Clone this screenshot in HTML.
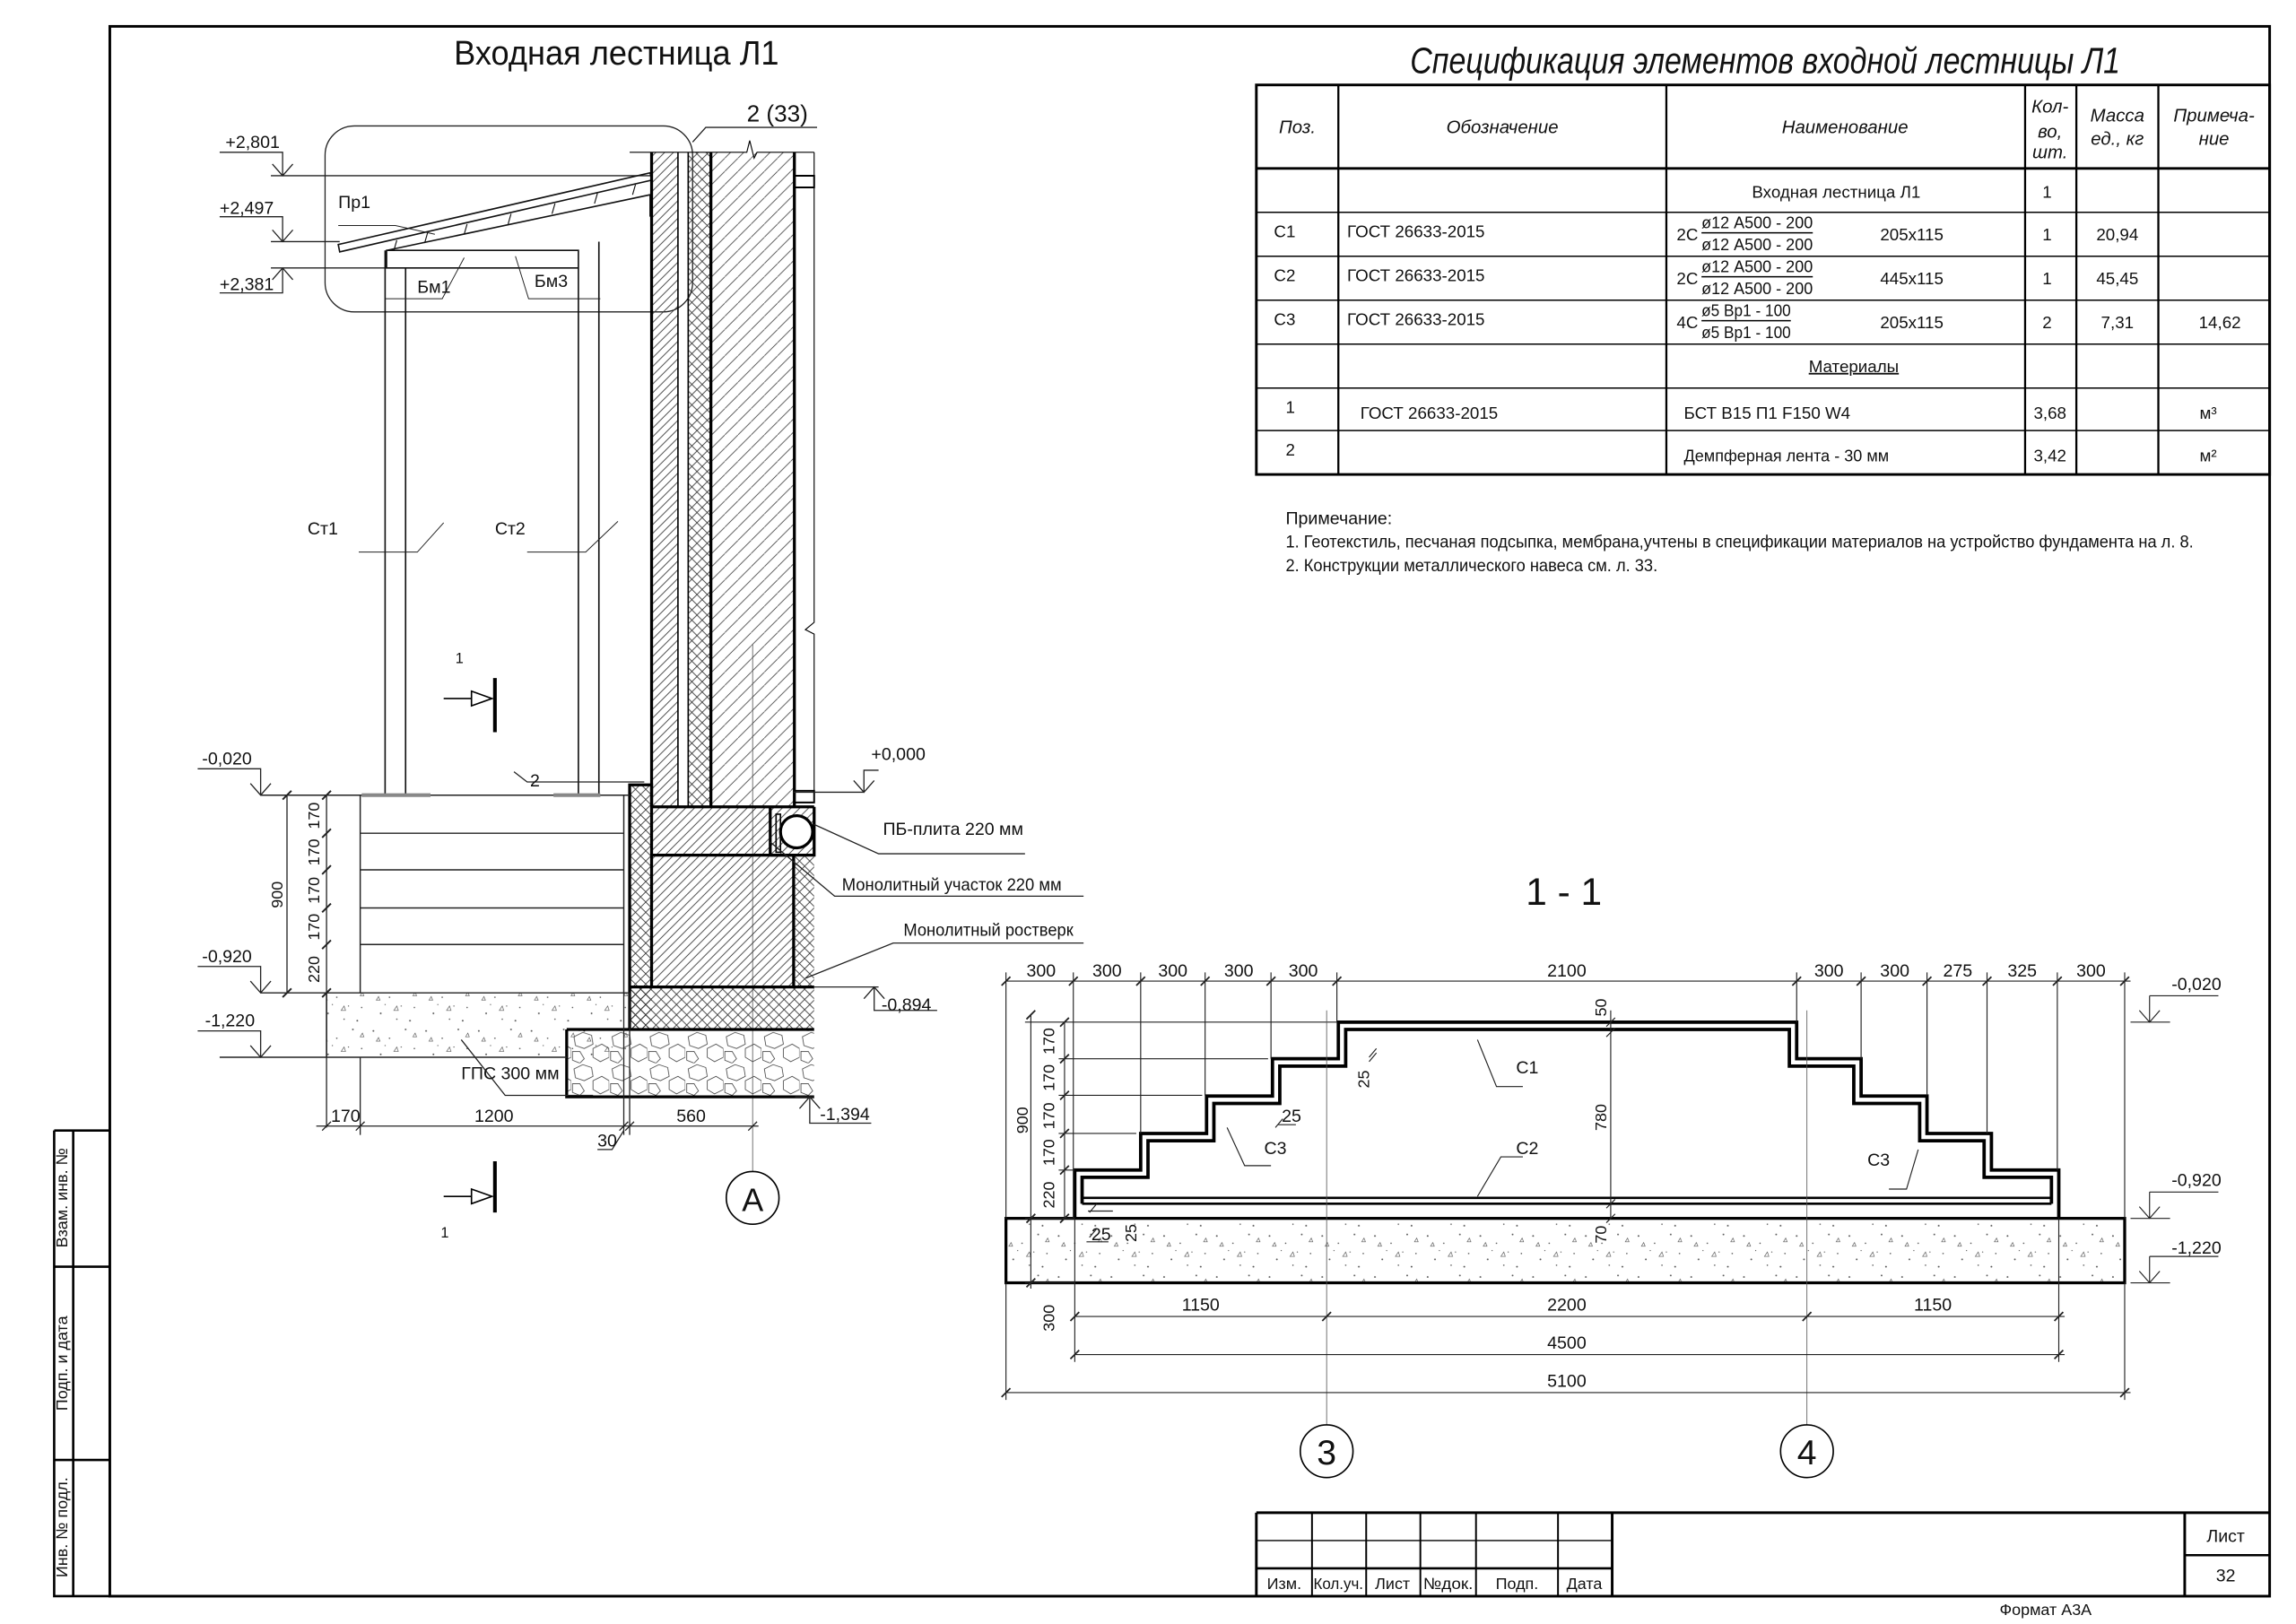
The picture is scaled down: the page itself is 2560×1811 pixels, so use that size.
<!DOCTYPE html>
<html><head><meta charset="utf-8"><style>
html,body{margin:0;padding:0;background:#fff}
svg{display:block}
text{font-family:"Liberation Sans Narrow","Liberation Sans",sans-serif;fill:#111}
</style></head><body>
<svg width="2560" height="1811" viewBox="0 0 1568 1109" preserveAspectRatio="none" xmlns="http://www.w3.org/2000/svg">
<defs>
<pattern id="dg" patternUnits="userSpaceOnUse" width="6" height="6"><path d="M-1,7 L7,-1 M-1,1 L1,-1 M5,7 L7,5" stroke="#333" stroke-width="0.5"/></pattern>
<pattern id="dg2" patternUnits="userSpaceOnUse" width="9" height="9"><path d="M-1,10 L10,-1" stroke="#444" stroke-width="0.5"/></pattern>
<pattern id="cr" patternUnits="userSpaceOnUse" width="7" height="7"><path d="M-1,8 L8,-1 M-1,-1 L8,8" stroke="#333" stroke-width="0.5"/></pattern>
<pattern id="cc" patternUnits="userSpaceOnUse" width="36" height="28"><g fill="#555"><circle cx="3" cy="4" r="0.6"/><circle cx="14" cy="9" r="0.5"/><circle cx="25" cy="3" r="0.6"/><circle cx="31" cy="16" r="0.5"/><circle cx="8" cy="20" r="0.6"/><circle cx="19" cy="24" r="0.5"/><circle cx="28" cy="25" r="0.6"/><circle cx="11" cy="14" r="0.4"/><circle cx="22" cy="15" r="0.4"/></g><path d="M17,18 l2,-3 l1,3z M5,11 l1.5,-2.5 l1,2.5z M30,8 l1.5,-2.5 l1,2.5z" fill="none" stroke="#555" stroke-width="0.4"/></pattern>
<pattern id="rb" patternUnits="userSpaceOnUse" width="26" height="22"><path d="M2,4 l6,-3 l6,2 l1,6 l-6,3 l-6,-2z M15,12 l6,-3 l5,3 l0,6 l-6,3 l-5,-3z M1,14 l5,0 l3,5 l-3,3 l-5,-2z" fill="none" stroke="#444" stroke-width="0.5"/></pattern>
</defs>
<rect width="1568" height="1109" fill="#fff"/>
<rect x="75" y="18" width="1475" height="1072" fill="none" stroke="#000" stroke-width="1.8"/>
<g stroke="#000" stroke-width="1.6" fill="none">
<path d="M37,772 H75 M37,772 V1090 H75 M50,772 V1090 M37,865 H75 M37,997 H75"/>
</g>
<g font-size="11">
<text transform="translate(46,818) rotate(-90)" text-anchor="middle">Взам. инв. №</text>
<text transform="translate(46,931) rotate(-90)" text-anchor="middle">Подп. и дата</text>
<text transform="translate(46,1043) rotate(-90)" text-anchor="middle">Инв. № подл.</text>
</g>
<g stroke="#000" fill="none">
<path d="M858,1033 H1550 M858,1033 V1090 M1101,1033 V1090 M1492,1033 V1090" stroke-width="1.8"/>
<path d="M896,1033 V1090 M933,1033 V1090 M970,1033 V1090 M1008,1033 V1090 M1064,1033 V1090" stroke-width="1.2"/>
<path d="M858,1052 H1101" stroke-width="0.8"/>
<path d="M858,1071 H1101 M1492,1062 H1550" stroke-width="1.6"/>
</g>
<g font-size="11" text-anchor="middle">
<text x="877" y="1085">Изм.</text><text x="914" y="1085" textLength="34" lengthAdjust="spacingAndGlyphs">Кол.уч.</text><text x="951" y="1085">Лист</text><text x="989" y="1085" textLength="34" lengthAdjust="spacingAndGlyphs">№док.</text><text x="1036" y="1085">Подп.</text><text x="1082" y="1085">Дата</text>
<text x="1520" y="1053" font-size="12">Лист</text><text x="1520" y="1080" font-size="12">32</text>
<text x="1397" y="1103">Формат А3А</text>
</g>
<text x="310" y="44" font-size="23" textLength="222" lengthAdjust="spacingAndGlyphs">Входная лестница Л1</text>
<text x="963" y="50" font-size="25" font-style="italic" textLength="485" lengthAdjust="spacingAndGlyphs">Спецификация элементов входной лестницы Л1</text>
<g stroke="#000" fill="none">
<rect x="858" y="58" width="692" height="266" stroke-width="1.8"/>
<path d="M914,58 V324 M1138,58 V324 M1383,58 V324 M1418,58 V324 M1474,58 V324" stroke-width="1.4"/>
<path d="M858,115 H1550" stroke-width="1.8"/>
<path d="M858,145 H1550 M858,175 H1550 M858,205 H1550 M858,235 H1550 M858,265 H1550 M858,294 H1550" stroke-width="0.9"/>
</g>
<g font-size="12.5" font-style="italic" text-anchor="middle">
<text x="886" y="91">Поз.</text><text x="1026" y="91">Обозначение</text><text x="1260" y="91">Наименование</text>
<text x="1400" y="77">Кол-</text><text x="1400" y="94">во,</text><text x="1400" y="108">шт.</text>
<text x="1446" y="83">Масса</text><text x="1446" y="99">ед., кг</text>
<text x="1512" y="83">Примеча-</text><text x="1512" y="99">ние</text>
</g>
<g font-size="11.5">
<text x="1254" y="135" text-anchor="middle">Входная лестница Л1</text><text x="1398" y="135" text-anchor="middle">1</text>
<text x="870" y="162">С1</text><text x="920" y="162">ГОСТ 26633-2015</text><text x="1145" y="164">2С</text>
<text x="1162" y="156" textLength="76" lengthAdjust="spacingAndGlyphs">ø12 А500 - 200</text><text x="1162" y="171" textLength="76" lengthAdjust="spacingAndGlyphs">ø12 А500 - 200</text><text x="1284" y="164">205х115</text>
<text x="1398" y="164" text-anchor="middle">1</text><text x="1446" y="164" text-anchor="middle">20,94</text>
<text x="870" y="192">С2</text><text x="920" y="192">ГОСТ 26633-2015</text><text x="1145" y="194">2С</text>
<text x="1162" y="186" textLength="76" lengthAdjust="spacingAndGlyphs">ø12 А500 - 200</text><text x="1162" y="201" textLength="76" lengthAdjust="spacingAndGlyphs">ø12 А500 - 200</text><text x="1284" y="194">445х115</text>
<text x="1398" y="194" text-anchor="middle">1</text><text x="1446" y="194" text-anchor="middle">45,45</text>
<text x="870" y="222">С3</text><text x="920" y="222">ГОСТ 26633-2015</text><text x="1145" y="224">4С</text>
<text x="1162" y="216" textLength="61" lengthAdjust="spacingAndGlyphs">ø5 Вр1 - 100</text><text x="1162" y="231" textLength="61" lengthAdjust="spacingAndGlyphs">ø5 Вр1 - 100</text><text x="1284" y="224">205х115</text>
<text x="1398" y="224" text-anchor="middle">2</text><text x="1446" y="224" text-anchor="middle">7,31</text><text x="1516" y="224" text-anchor="middle">14,62</text>
<text x="1266" y="254" text-anchor="middle" text-decoration="underline">Материалы</text>
<text x="878" y="282">1</text><text x="929" y="286">ГОСТ 26633-2015</text><text x="1150" y="286">БСТ В15 П1 F150 W4</text>
<text x="1400" y="286" text-anchor="middle">3,68</text><text x="1508" y="286" text-anchor="middle">м³</text>
<text x="878" y="311">2</text><text x="1150" y="315" textLength="140" lengthAdjust="spacingAndGlyphs">Демпферная лента - 30 мм</text>
<text x="1400" y="315" text-anchor="middle">3,42</text><text x="1508" y="315" text-anchor="middle">м²</text>
</g>
<g stroke="#000" stroke-width="0.9"><path d="M1162,159 H1238 M1162,189 H1238 M1162,219 H1223"/></g>
<g font-size="12">
<text x="878" y="358">Примечание:</text>
<text x="878" y="374" textLength="620" lengthAdjust="spacingAndGlyphs">1. Геотекстиль, песчаная подсыпка, мембрана,учтены в спецификации материалов на устройство фундамента на л. 8.</text>
<text x="878" y="390" textLength="254" lengthAdjust="spacingAndGlyphs">2. Конструкции металлического навеса см. л. 33.</text>
</g>

<rect x="222" y="86" width="251" height="127" rx="20" fill="none" stroke="#222" stroke-width="0.8"/>
<g stroke="#222" stroke-width="0.8" fill="none">
<path d="M473,97 L482,87 H558"/>
<path d="M150,104 H193 V120 M186,112 L193,120 L200,112 M185,120 H445"/>
<path d="M150,148 H193 V165 M186,157 L193,165 L200,157 M185,165 H232"/>
<path d="M150,200 H193 V183 M186,191 L193,183 L200,191 M185,183 H264"/>
</g>
<g font-size="12"><text x="154" y="101">+2,801</text><text x="150" y="146">+2,497</text><text x="150" y="198">+2,381</text></g>
<g stroke="#111" stroke-width="1" fill="none">
<path d="M231,167 L444,118 L445,123 L232,172 Z"/>
<path d="M264,171 L444,133 V148"/>
<path d="M264,171 H395 V183 H264 Z M277,183 V543 M263,171 V543 M395,171 V543 M409,165 V543"/>
<path d="M269,171 l2,-7 M290,166 l2,-7 M317,160 l2,-7 M347,153 l2,-7 M377,146 l2,-7 M406,139 l2,-7 M432,133 l2,-7" stroke-width="0.7"/>
</g>
<g stroke="#222" stroke-width="0.6" fill="none">
<path d="M231,154 L270,154 L297,160"/>
<path d="M317,176 L302,204 H263"/>
<path d="M352,175 L361,204 H410"/>
<path d="M245,377 H285 L303,357 M360,377 H400 L422,356"/>
</g>
<g font-size="12"><text x="231" y="142">Пр1</text><text x="285" y="200">Бм1</text><text x="365" y="196">Бм3</text>
<text x="210" y="365">Ст1</text><text x="338" y="365">Ст2</text>
<text x="510" y="83" font-size="16">2 (33)</text></g>
<rect x="445" y="104" width="18" height="447" fill="url(#dg)"/>
<rect x="470" y="104" width="15.5" height="447" fill="url(#cr)"/>
<rect x="485.5" y="104" width="57" height="447" fill="url(#dg2)"/>
<g stroke="#000" fill="none">
<path d="M445,104 V551 M485.5,104 V551 M542.5,104 V551" stroke-width="2"/>
<path d="M463,104 V551 M470,104 V551" stroke-width="1"/>
<path d="M430,104 H510 L512,96 L515,108 L517,104 H556" stroke-width="0.7"/>
<path d="M556,104 V425 L550,430 L556,433 V540" stroke-width="0.7"/>
<path d="M542.5,120 H556 V128 H542.5 M542.5,540 H556 V548 H542.5" stroke-width="1.2"/>
<path d="M514,440 V800" stroke-width="0.5" stroke="#555"/>
</g>
<rect x="445" y="551" width="111" height="33" fill="url(#dg)"/>
<rect x="445" y="584" width="97" height="90" fill="url(#dg)"/>
<rect x="430" y="536" width="15" height="167" fill="url(#cr)"/>
<rect x="430" y="674" width="126" height="29" fill="url(#cr)"/>
<rect x="542" y="584" width="14" height="90" fill="url(#cr)"/>
<rect x="387" y="703" width="169" height="46" fill="url(#rb)"/>
<rect x="223" y="678" width="207" height="44" fill="url(#cc)"/>
<g stroke="#000" fill="none" stroke-width="2">
<path d="M430,703 V536 H445 V551 H556"/>
<path d="M445,551 V674 H542 V584 H526 V551 M526,584 H445 M430,674 H556"/>
<path d="M556,551 V584 H526"/>
<path d="M387,703 H556 M387,703 V749 H556"/>
<circle cx="544" cy="568" r="11" fill="#fff"/>
</g>
<rect x="530" y="556" width="3" height="26" fill="none" stroke="#000" stroke-width="1"/>
<g stroke="#222" fill="none" stroke-width="0.9">
<path d="M178,543 H430 M246,543 V678 M426,543 V678 M246,569 H426 M246,594 H426 M246,620 H426 M246,645 H426 M178,678 H430"/>
<path d="M223,678 V722 M150,722 H387"/>
</g>
<g stroke="#888" stroke-width="2.5"><path d="M247,543 H294 M378,543 H410"/></g>
<g stroke="#222" stroke-width="0.8" fill="none">
<path d="M135,525 H178 V543 M171,535 L178,543 L185,535"/>
<path d="M135,660 H178 V678 M171,670 L178,678 L185,670"/>
<path d="M135,704 H178 V722 M171,714 L178,722 L185,714"/>
<path d="M196,543 V678 M223,543 V770 M182,543 H230"/>
<path d="M193,546 l6,-6 M193,681 l6,-6 M220,546 l6,-6 M220,572 l6,-6 M220,597 l6,-6 M220,623 l6,-6 M220,648 l6,-6 M220,681 l6,-6" stroke-width="1.2"/>
<path d="M246,722 V775 M426,678 V775 M430,678 V775 M216,769 H518 M220,772 l6,-6 M243,772 l6,-6 M423,772 l6,-6 M427,772 l6,-6 M511,772 l6,-6" />
<path d="M426,772 L418,785 H408"/>
<path d="M600,526 H590 V541 M583,533 L590,541 L597,533 M542,541 H590"/>
<path d="M556,674 H600 M590,682 L597,674 L604,682 M597,674 V690 H640"/>
<path d="M543,749 H556 M546,757 L553,749 L560,757 M553,749 V767 H595"/>
<path d="M351,527 L360,534 H440"/>
<path d="M315,710 L345,748 H405"/>
<path d="M556,563 L600,583 H700"/>
<path d="M526,575 L570,612 H740"/>
<path d="M550,668 L610,644 H740"/>
</g>
<g font-size="12">
<text x="138" y="522">-0,020</text><text x="138" y="657">-0,920</text><text x="140" y="701">-1,220</text>
<text x="595" y="519">+0,000</text><text x="602" y="690">-0,894</text><text x="560" y="765">-1,394</text>
<text x="362" y="537">2</text>
<text x="315" y="737">ГПС 300 мм</text>
<text x="603" y="570">ПБ-плита  220 мм</text>
<text x="575" y="608" textLength="150" lengthAdjust="spacingAndGlyphs">Монолитный участок  220 мм</text>
<text x="617" y="639" textLength="116" lengthAdjust="spacingAndGlyphs">Монолитный ростверк</text>
<text x="226" y="766">170</text><text x="324" y="766">1200</text><text x="462" y="766">560</text><text x="408" y="783">30</text>
</g>
<g font-size="11">
<text transform="translate(193,611) rotate(-90)" text-anchor="middle">900</text>
<text transform="translate(218,557) rotate(-90)" text-anchor="middle">170</text>
<text transform="translate(218,582) rotate(-90)" text-anchor="middle">170</text>
<text transform="translate(218,608) rotate(-90)" text-anchor="middle">170</text>
<text transform="translate(218,633) rotate(-90)" text-anchor="middle">170</text>
<text transform="translate(218,662) rotate(-90)" text-anchor="middle">220</text>
</g>
<circle cx="514" cy="818" r="18" fill="#fff" stroke="#000" stroke-width="1"/>
<text x="514" y="827" font-size="22" text-anchor="middle">А</text>
<g stroke="#000" fill="none">
<path d="M338,463 V500 M338,793 V828" stroke-width="2.5"/>
<path d="M303,477 H322 M303,817 H322" stroke-width="1"/>
<path d="M322,472 L336,477 L322,482 Z M322,812 L336,817 L322,822 Z" stroke-width="1" fill="#fff"/>
</g>
<g font-size="10"><text x="311" y="453">1</text><text x="301" y="845">1</text></g>

<text x="1068" y="618" font-size="26" text-anchor="middle">1 - 1</text>
<rect x="687" y="832" width="764" height="44" fill="url(#cc)" stroke="#000" stroke-width="2"/>
<g fill="none" stroke="#000" stroke-width="2.3">
<path d="M734,832 V799 H779 V774 H824 V748.5 H869 V723 H914 V698 H1227 V723 H1271 V748.5 H1316 V774 H1360 V799 H1406 V832"/>
<path d="M739,822 V804 H784 V779 H829 V753.5 H874 V728 H919 V703 H1222 V728 H1266 V753.5 H1311 V779 H1355 V804 H1401 V822"/>
<path d="M739,818 H1401 M739,822 H1401" stroke-width="1.6"/>
</g>
<g stroke="#222" stroke-width="0.7" fill="none">
<path d="M687,670 H1455 M687,664 V832 M733,664 V832 M779,664 V774 M823,664 V748 M868,664 V723 M913,664 V698 M1227,664 V698 M1271,664 V723 M1316,664 V748 M1357,664 V774 M1405,664 V799 M1451,664 V832"/>
<path d="M684,673 l6,-6 M730,673 l6,-6 M776,673 l6,-6 M820,673 l6,-6 M865,673 l6,-6 M910,673 l6,-6 M1224,673 l6,-6 M1268,673 l6,-6 M1313,673 l6,-6 M1354,673 l6,-6 M1402,673 l6,-6 M1448,673 l6,-6" stroke-width="1.1"/>
<path d="M704,693 V880 M727,698 V832 M700,698 H913 M723,723 H866 M723,748 H821 M723,774 H776 M723,799 H734 M700,832 H734 M700,876 H734"/>
<path d="M701,696 l6,-6 M701,835 l6,-6 M701,879 l6,-6 M724,701 l6,-6 M724,726 l6,-6 M724,751 l6,-6 M724,777 l6,-6 M724,802 l6,-6 M724,835 l6,-6" stroke-width="1.1"/>
<path d="M1100,690 V832 M1097,701 l6,-6 M1097,708 l6,-6 M1097,825 l6,-6 M1097,835 l6,-6" />
<path d="M906,690 V975 M1234,690 V975" stroke="#555" stroke-width="0.5"/>
<path d="M734,899 H1410 M734,925 H1410 M687,951 H1455 M734,832 V930 M1406,832 V930 M687,876 V956 M1451,876 V956"/>
<path d="M731,902 l6,-6 M903,902 l6,-6 M1231,902 l6,-6 M1403,902 l6,-6 M731,928 l6,-6 M1403,928 l6,-6 M684,954 l6,-6 M1448,954 l6,-6" stroke-width="1.1"/>
<path d="M1455,698 H1482 M1468,680 V698 M1461,690 L1468,698 L1475,690 M1468,680 H1515"/>
<path d="M1455,832 H1482 M1468,814 V832 M1461,824 L1468,832 L1475,824 M1468,814 H1515"/>
<path d="M1455,876 H1482 M1468,858 V876 M1461,868 L1468,876 L1475,868 M1468,858 H1515"/>
<path d="M1009,710 L1022,742 H1040 M1009,817 L1025,790 H1040 M838,770 L850,796 H868 M1310,785 L1302,812 H1290"/>
<path d="M743,827 H760 M742,848 H757 M744,828 l5,-6 M744,845 l5,-6 M873,768 H885 M871,770 l5,-6 M935,722 l5,-6 M935,725 l5,-6"/>
</g>
<g font-size="12" text-anchor="middle">
<text x="711" y="667">300</text><text x="756" y="667">300</text><text x="801" y="667">300</text><text x="846" y="667">300</text><text x="890" y="667">300</text>
<text x="1070" y="667">2100</text>
<text x="1249" y="667">300</text><text x="1294" y="667">300</text><text x="1337" y="667">275</text><text x="1381" y="667">325</text><text x="1428" y="667">300</text>
<text x="1500" y="676">-0,020</text><text x="1500" y="810">-0,920</text><text x="1500" y="856">-1,220</text>
<text x="820" y="895">1150</text><text x="1070" y="895">2200</text><text x="1320" y="895">1150</text>
<text x="1070" y="921">4500</text><text x="1070" y="947">5100</text>
<text x="1043" y="733">С1</text><text x="1043" y="788">С2</text><text x="871" y="788">С3</text><text x="1283" y="796">С3</text>
<text x="882" y="766">25</text><text x="752" y="847">25</text>
</g>
<g font-size="11" text-anchor="middle">
<text transform="translate(702,765) rotate(-90)">900</text>
<text transform="translate(720,711) rotate(-90)">170</text>
<text transform="translate(720,736) rotate(-90)">170</text>
<text transform="translate(720,762) rotate(-90)">170</text>
<text transform="translate(720,787) rotate(-90)">170</text>
<text transform="translate(720,816) rotate(-90)">220</text>
<text transform="translate(720,900) rotate(-90)">300</text>
<text transform="translate(1097,688) rotate(-90)">50</text>
<text transform="translate(1097,763) rotate(-90)">780</text>
<text transform="translate(1097,843) rotate(-90)">70</text>
<text transform="translate(935,737) rotate(-90)">25</text>
<text transform="translate(776,842) rotate(-90)">25</text>
</g>
<circle cx="906" cy="991" r="18" fill="#fff" stroke="#000" stroke-width="1"/>
<circle cx="1234" cy="991" r="18" fill="#fff" stroke="#000" stroke-width="1"/>
<text x="906" y="1000" font-size="24" text-anchor="middle">3</text>
<text x="1234" y="1000" font-size="24" text-anchor="middle">4</text>
</svg>
</body></html>
